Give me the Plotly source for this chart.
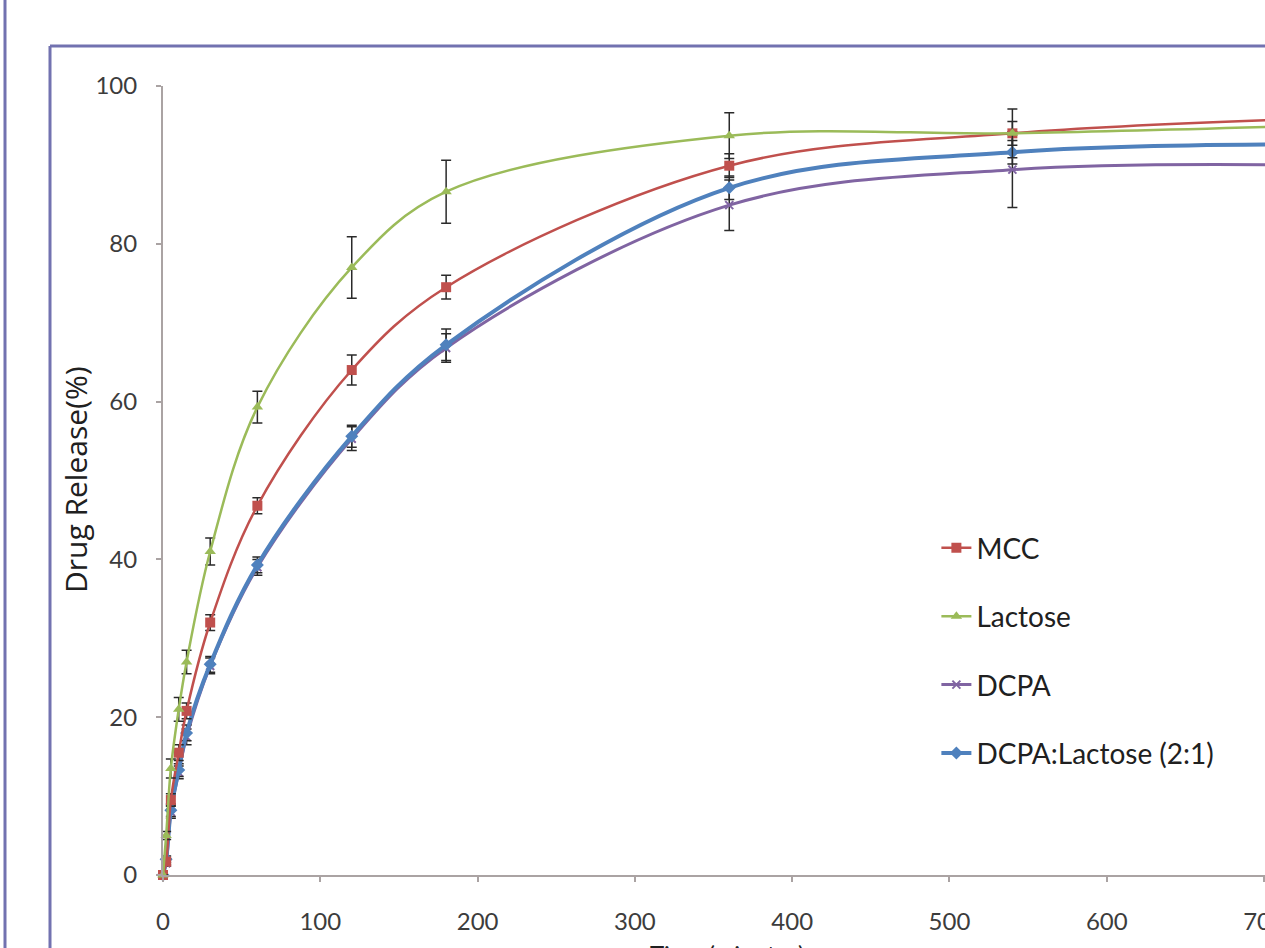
import plotly.graph_objects as go

# Dissolution time points (min)
time_min = [0, 2, 5, 10, 15, 30, 60, 120, 180, 360, 540, 720]

# Cumulative drug release (%) per excipient
mcc = [0, 1.7, 9.5, 15.5, 20.8, 32.0, 46.8, 64.0, 74.5, 89.9, 94.0, 95.8]
lactose = [0, 5.0, 13.5, 21.0, 27.0, 41.0, 59.3, 77.0, 86.6, 93.7, 94.0, 94.9]
dcpa = [0, 1.5, 8.0, 13.0, 17.5, 26.5, 39.0, 55.3, 66.8, 84.9, 89.4, 90.0]
dcpa_lactose = [0, 2.0, 8.2, 13.3, 18.0, 26.7, 39.3, 55.6, 67.2, 87.1, 91.6, 92.6]

# Standard deviations
mcc_sd = [0, 0.4, 0.8, 1.0, 1.0, 1.0, 1.0, 1.9, 1.5, 1.5, 1.5, 1.0]
lactose_sd = [0, 0.5, 1.2, 1.5, 1.5, 1.7, 2.0, 3.9, 4.0, 2.9, 3.1, 2.0]
dcpa_sd = [0, 0.4, 0.8, 0.8, 1.0, 1.0, 1.0, 1.5, 1.8, 3.2, 4.8, 2.0]
dcpa_lactose_sd = [0, 0.4, 0.8, 0.8, 1.0, 1.0, 1.0, 1.4, 2.0, 1.5, 1.5, 1.0]

x_ticks = [0, 100, 200, 300, 400, 500, 600, 700]
y_ticks = [0, 20, 40, 60, 80, 100]

FONT = "Lato, 'Open Sans', sans-serif"

# (name, values, sd, colour, marker symbol, marker size, line width, legend rank)
series = [
    ("DCPA", dcpa, dcpa_sd, "#8064A2", "x-thin-open", 8, 3.0, 3),
    ("DCPA:Lactose (2:1)", dcpa_lactose, dcpa_lactose_sd, "#4F81BD", "diamond", 10, 4.0, 4),
    ("MCC", mcc, mcc_sd, "#C0504D", "square", 10, 2.5, 1),
    ("Lactose", lactose, lactose_sd, "#9BBB59", "triangle-up", 10, 2.5, 2),
]

fig = go.Figure()
for name, vals, sd, color, symbol, msize, lw, rank in series:
    fig.add_trace(go.Scatter(
        x=time_min, y=vals, name=name, mode="lines+markers",
        line=dict(color=color, width=lw, shape="spline", smoothing=1.0),
        marker=dict(symbol=symbol, size=msize, color=color,
                    line=dict(color=color, width=2 if symbol.startswith("x") else 0)),
        error_y=dict(type="data", array=sd, visible=True, color="#2a2a2a",
                     thickness=1.5, width=5),
        cliponaxis=False, legendrank=rank, legendgroup=name,
    ))

axis_col = "#aaa3a3"
fig.update_layout(
    width=1265, height=948,
    margin=dict(l=163, r=0, t=86, b=73, autoexpand=False),
    paper_bgcolor="white", plot_bgcolor="white",
    font=dict(family=FONT, color="#3c3c3c"),
    showlegend=True,
    legend=dict(x=0.7018, y=0.446, xanchor="left", yanchor="top",
                font=dict(size=28, family=FONT, color="#202020"),
                bgcolor="rgba(0,0,0,0)", tracegroupgap=29, itemwidth=30),
    xaxis=dict(range=[0, 700.6], tickvals=x_ticks, showgrid=False, zeroline=False,
               showline=True, linecolor=axis_col, linewidth=2,
               ticks="outside", ticklen=5, tickcolor=axis_col, tickwidth=1.5,
               tickfont=dict(size=24, family=FONT, color="#3c3c3c"),
               ticklabelstandoff=19, ticklabeloverflow="allow", automargin=False),
    yaxis=dict(range=[0, 100], tickvals=y_ticks, showgrid=False, zeroline=False,
               showline=True, linecolor=axis_col, linewidth=2,
               ticks="outside", ticklen=5, tickcolor=axis_col, tickwidth=1.5,
               tickfont=dict(size=24, family=FONT, color="#3c3c3c"),
               ticklabelstandoff=14, automargin=False),
)

# Axis titles
fig.add_annotation(text="Drug Release(%)", xref="paper", yref="paper",
                   x=(75 - 163) / 1102, y=(875 - 480) / 789, xanchor="center", yanchor="middle",
                   textangle=-90, showarrow=False,
                   font=dict(size=30, family="'Open Sans', sans-serif", color="#202020"))
fig.add_annotation(text="Time (minutes)", xref="paper", yref="paper",
                   x=(727 - 163) / 1102, y=-0.0785, xanchor="center", yanchor="top",
                   showarrow=False, font=dict(size=24, family=FONT, color="#202020"))

# Page border and chart frame
frame_col = "#7272b0"
fig.add_shape(type="line", xref="paper", yref="paper",
              x0=(5 - 163) / 1102, x1=(5 - 163) / 1102, y0=1.12, y1=-0.1,
              line=dict(color=frame_col, width=3), layer="above")
fig.add_shape(type="line", xref="paper", yref="paper",
              x0=(50 - 163) / 1102, x1=1.02, y0=(875 - 46) / 789, y1=(875 - 46) / 789,
              line=dict(color=frame_col, width=3), layer="above")
fig.add_shape(type="line", xref="paper", yref="paper",
              x0=(50 - 163) / 1102, x1=(50 - 163) / 1102, y0=(875 - 46) / 789, y1=-0.1,
              line=dict(color=frame_col, width=3), layer="above")

fig.write_html("out.html")
